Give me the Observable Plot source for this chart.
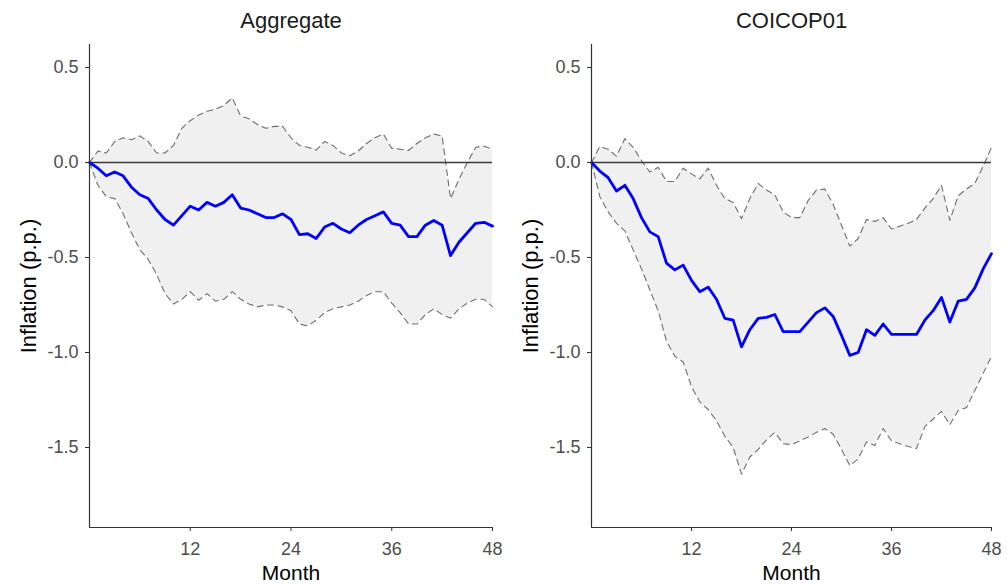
<!DOCTYPE html>
<html>
<head>
<meta charset="utf-8">
<script src="https://cdn.jsdelivr.net/npm/d3@7"></script>
<script src="https://cdn.jsdelivr.net/npm/@observablehq/plot@0.6"></script>
<style>
  body { margin: 0; background: #fff; font-family: "Liberation Sans", Arial, sans-serif; }
  #wrap { position: relative; width: 1007px; height: 585px; overflow: hidden; }
  #topbar { position: absolute; left: 0; top: 0; width: 870px; height: 5px; background: #f2f2f2; }
  .panel { position: absolute; top: 0; }
</style>
</head>
<body>
<div id="wrap">
  <div id="topbar"></div>
  <div id="left" class="panel" style="left:0px"></div>
  <div id="right" class="panel" style="left:502px"></div>
</div>
<script>
// Months after the shock (0..48)
const months = d3.range(0, 49);

// Aggregate inflation response (p.p.): point estimate and band
const aggMean = [0, -0.03, -0.07, -0.05, -0.07, -0.13, -0.17, -0.19, -0.25, -0.30,
  -0.33, -0.28, -0.23, -0.25, -0.21, -0.23, -0.21, -0.17, -0.24, -0.25,
  -0.27, -0.29, -0.29, -0.27, -0.30, -0.38, -0.375, -0.40, -0.34, -0.32,
  -0.35, -0.37, -0.33, -0.30, -0.28, -0.26, -0.32, -0.33, -0.39, -0.39,
  -0.33, -0.305, -0.33, -0.49, -0.42, -0.37, -0.32, -0.315, -0.335];
const aggLower = [0, -0.12, -0.18, -0.19, -0.27, -0.37, -0.46, -0.51, -0.59, -0.69,
  -0.745, -0.72, -0.68, -0.725, -0.69, -0.73, -0.72, -0.68, -0.72, -0.745,
  -0.76, -0.75, -0.75, -0.76, -0.78, -0.85, -0.86, -0.83, -0.79, -0.77,
  -0.76, -0.75, -0.73, -0.70, -0.68, -0.68, -0.74, -0.79, -0.85, -0.85,
  -0.80, -0.77, -0.80, -0.82, -0.77, -0.74, -0.72, -0.72, -0.76];
const aggUpper = [0, 0.06, 0.05, 0.11, 0.13, 0.12, 0.14, 0.11, 0.05, 0.05,
  0.09, 0.18, 0.22, 0.25, 0.27, 0.28, 0.30, 0.34, 0.245, 0.23,
  0.20, 0.18, 0.19, 0.19, 0.13, 0.09, 0.08, 0.065, 0.11, 0.09,
  0.05, 0.035, 0.06, 0.10, 0.13, 0.15, 0.075, 0.07, 0.063, 0.10,
  0.13, 0.15, 0.14, -0.19, -0.09, 0.0, 0.08, 0.086, 0.07];

// COICOP01 (food) inflation response (p.p.)
const cpMean = [0, -0.045, -0.08, -0.15, -0.12, -0.19, -0.29, -0.365, -0.39, -0.53,
  -0.565, -0.54, -0.62, -0.68, -0.656, -0.72, -0.82, -0.83, -0.97, -0.88,
  -0.82, -0.815, -0.80, -0.89, -0.89, -0.89, -0.84, -0.79, -0.765, -0.81,
  -0.91, -1.015, -1.0, -0.88, -0.91, -0.85, -0.905, -0.905, -0.905, -0.905,
  -0.83, -0.78, -0.71, -0.84, -0.73, -0.72, -0.66, -0.56, -0.48];
const cpLower = [0, -0.18, -0.26, -0.32, -0.36, -0.46, -0.56, -0.67, -0.78, -0.94,
  -1.02, -1.05, -1.18, -1.26, -1.30, -1.36, -1.44, -1.50, -1.64, -1.55,
  -1.51, -1.46, -1.42, -1.48, -1.485, -1.465, -1.445, -1.42, -1.40, -1.43,
  -1.51, -1.595, -1.56, -1.47, -1.49, -1.40, -1.465, -1.48, -1.495, -1.505,
  -1.39, -1.35, -1.31, -1.38, -1.305, -1.29, -1.20, -1.11, -1.02];
const cpUpper = [0, 0.084, 0.07, 0.033, 0.125, 0.08, 0.01, -0.05, -0.025, -0.10,
  -0.10, -0.03, -0.06, -0.086, -0.03, -0.12, -0.19, -0.21, -0.296, -0.19,
  -0.11, -0.145, -0.17, -0.26, -0.29, -0.29, -0.20, -0.145, -0.14, -0.22,
  -0.33, -0.44, -0.40, -0.30, -0.31, -0.29, -0.35, -0.335, -0.32, -0.30,
  -0.24, -0.19, -0.12, -0.305, -0.175, -0.14, -0.11, -0.02, 0.08];

const xTicks = [12, 24, 36, 48];
const yTicks = [-1.5, -1.0, -0.5, 0.0, 0.5];
const yDomain = [-1.921, 0.621];

function irfPanel(title, mean, lower, upper, width, marginRight) {
  const rows = months.map((m, i) => ({month: m, mean: mean[i], lo: lower[i], hi: upper[i]}));
  const band = {stroke: "#6e6e6e", strokeWidth: 1.1, strokeDasharray: "6,4.5"};
  return Plot.plot({
    width,
    height: 585,
    marginLeft: 89,
    marginRight,
    marginTop: 44,
    marginBottom: 58,
    style: {fontFamily: '"Liberation Sans", Arial, sans-serif', background: "white", overflow: "visible"},
    x: {domain: [0, 48]},
    y: {domain: yDomain},
    marks: [
      Plot.areaY(rows, {x: "month", y1: "lo", y2: "hi", fill: "#f0f0f0"}),
      Plot.lineY(rows, {x: "month", y: "hi", ...band}),
      Plot.lineY(rows, {x: "month", y: "lo", ...band}),
      Plot.ruleY([0], {stroke: "#3a3a3a", strokeWidth: 1.4}),
      Plot.lineY(rows, {x: "month", y: "mean", stroke: "#0000ff", strokeWidth: 2.8, strokeLinejoin: "round"}),
      Plot.axisX({ticks: xTicks, tickSize: 4, tickPadding: 11, label: null, fontSize: 18,
        stroke: "#333333", fill: "#4d4d4d"}),
      Plot.axisY({ticks: yTicks, tickSize: 4, tickPadding: 7, label: null, fontSize: 18,
        tickFormat: d => d.toFixed(1), stroke: "#333333", fill: "#4d4d4d"}),
      Plot.ruleX([0], {stroke: "#333333", strokeWidth: 1.2}),
      Plot.ruleY([yDomain[0]], {stroke: "#333333", strokeWidth: 1.2}),
      Plot.text([title], {frameAnchor: "top", lineAnchor: "middle", dy: -23.5, fontSize: 22, fill: "#1a1a1a"}),
      Plot.text(["Month"], {frameAnchor: "bottom", lineAnchor: "middle", dy: 46, fontSize: 21, fill: "#000000"}),
      Plot.text(["Inflation (p.p.)"], {frameAnchor: "left", lineAnchor: "middle", dx: -61, rotate: -90,
        textAnchor: "middle", fontSize: 22, fill: "#000000"})
    ]
  });
}

document.getElementById("left").append(irfPanel("Aggregate", aggMean, aggLower, aggUpper, 502, 10));
document.getElementById("right").append(irfPanel("COICOP01", cpMean, cpLower, cpUpper, 505, 16));
</script>
</body>
</html>
